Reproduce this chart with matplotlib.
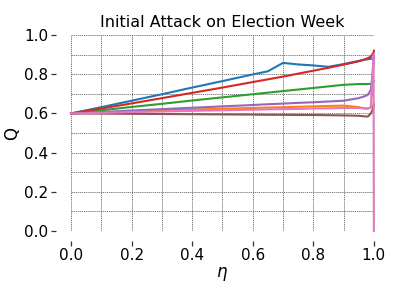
import numpy as np
import matplotlib
matplotlib.use('Agg')
from matplotlib import pyplot as plt
from matplotlib.ticker import MultipleLocator

eta = [0.0, 0.1, 0.2, 0.3, 0.4, 0.5, 0.6, 0.65, 0.7, 0.75, 0.8, 0.85, 0.9, 0.95, 0.97, 0.98, 0.99, 0.999, 1.0]

q_blue = [0.6, 0.632, 0.665, 0.698, 0.732, 0.765, 0.799, 0.815, 0.858, 0.850, 0.845, 0.838, 0.852, 0.868, 0.874, 0.877, 0.879, 0.881, 0.882]
q_orange = [0.6, 0.605, 0.610, 0.615, 0.620, 0.624, 0.628, 0.630, 0.632, 0.634, 0.636, 0.638, 0.640, 0.632, 0.625, 0.625, 0.630, 0.640, 0.650]
q_green = [0.6, 0.616, 0.633, 0.649, 0.666, 0.682, 0.698, 0.706, 0.714, 0.722, 0.730, 0.738, 0.746, 0.750, 0.750, 0.750, 0.751, 0.758, 0.765]
q_red = [0.6, 0.625, 0.651, 0.678, 0.705, 0.732, 0.760, 0.774, 0.788, 0.803, 0.818, 0.833, 0.849, 0.866, 0.876, 0.882, 0.890, 0.910, 0.920]
q_purple = [0.6, 0.607, 0.615, 0.622, 0.629, 0.636, 0.643, 0.647, 0.650, 0.654, 0.657, 0.661, 0.665, 0.678, 0.688, 0.695, 0.720, 0.850, 0.900]
q_brown = [0.6, 0.599, 0.598, 0.597, 0.596, 0.595, 0.594, 0.593, 0.593, 0.592, 0.592, 0.591, 0.590, 0.588, 0.585, 0.584, 0.600, 0.630, 0.640]
q_pink = [0.6, 0.603, 0.607, 0.610, 0.613, 0.616, 0.619, 0.621, 0.622, 0.623, 0.625, 0.626, 0.628, 0.628, 0.626, 0.625, 0.630, 0.900, 0.0]

series = [
    ('C0', q_blue),
    ('C1', q_orange),
    ('C2', q_green),
    ('C3', q_red),
    ('C4', q_purple),
    ('C5', q_brown),
    ('C6', q_pink),
]

fig = plt.figure(figsize=(3.99, 2.89), dpi=100)
ax = fig.add_axes([0.178, 0.2007, 0.759, 0.678])

for color, values in series:
    ax.plot(eta, values, color=color, linewidth=1.5, clip_on=False)

ax.set_xlim(0, 1)
ax.set_ylim(0, 1)
ax.xaxis.set_major_locator(MultipleLocator(0.2))
ax.yaxis.set_major_locator(MultipleLocator(0.2))
ax.xaxis.set_minor_locator(MultipleLocator(0.1))
ax.yaxis.set_minor_locator(MultipleLocator(0.1))
ax.grid(which='both', color='#666666', linestyle=(0, (1.5, 1)), linewidth=0.6)
ax.set_axisbelow(True)

for side in ['top', 'right', 'left', 'bottom']:
    ax.spines[side].set_visible(False)
ax.spines['left'].set_position(('outward', 11))
ax.spines['bottom'].set_position(('outward', 7))
ax.tick_params(which='major', length=3.5, width=0.9, labelsize=11, color='#333333', pad=2)
ax.tick_params(which='minor', length=0)

ax.set_title('Initial Attack on Election Week', fontsize=11.5)
ax.set_xlabel(r'$\eta$', fontsize=12, labelpad=1)
ax.set_ylabel('Q', fontsize=12, labelpad=2)

fig.savefig('out.png', dpi=100)
